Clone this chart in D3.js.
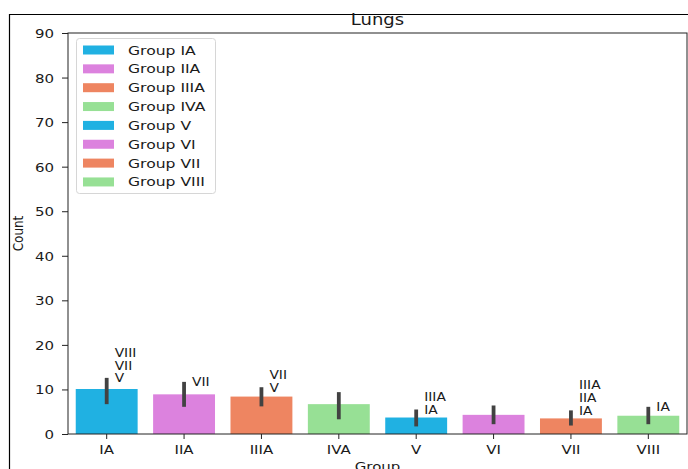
<!DOCTYPE html>
<html>
<head>
<meta charset="utf-8">
<script src="https://cdn.jsdelivr.net/npm/d3@7"></script>
<style>
  html, body { margin: 0; padding: 0; background: #fff; }
  svg { display: block; font-family: "DejaVu Sans", sans-serif; }
</style>
</head>
<body>
<svg id="chart" width="688" height="469"></svg>
<script>
// Lung counts per group: mean with confidence interval
const groups = ["IA", "IIA", "IIIA", "IVA", "V", "VI", "VII", "VIII"];
const means  = [10.1, 8.9, 8.4, 6.7, 3.7, 4.3, 3.5, 4.1];
const ciLow  = [6.7, 6.1, 6.2, 3.3, 1.7, 2.2, 1.9, 2.2];
const ciHigh = [12.6, 11.7, 10.5, 9.4, 5.5, 6.4, 5.3, 6.1];
// significance labels stacked above each error bar (bottom to top)
const sigLabels = [["V", "VII", "VIII"], ["VII"], ["V", "VII"], [], ["IA", "IIIA"], [], ["IA", "IIA", "IIIA"], ["IA"]];
const palette = ["#20b1e2", "#dc82de", "#ee8561", "#97e095"];
const yTicks = [0, 10, 20, 30, 40, 50, 60, 70, 80, 90];

const SX = 1.2; // horizontal text stretch
const svg = d3.select("#chart");
const margin = { left: 68, top: 33, right: 687, bottom: 434 };

// outer frame
svg.append("path")
  .attr("d", "M9.5,469 L9.5,14.5 L688,14.5")
  .attr("fill", "none").attr("stroke", "#000").attr("stroke-width", 1.2);

const x = d3.scaleBand().domain(groups).range([margin.left, margin.right]).paddingInner(0.2).paddingOuter(0.1);
const y = d3.scaleLinear().domain([0, 90]).range([margin.bottom, margin.top]);
const color = (i) => palette[i % palette.length];

// helper: text with horizontal stretch anchored at (px, py)
function addText(sel, px, py, str, size, anchor) {
  return sel.append("text")
    .attr("transform", `translate(${px},${py}) scale(${SX},1)`)
    .attr("text-anchor", anchor || "start")
    .attr("font-size", size).attr("fill", "#1a1a1a")
    .text(str);
}

// bars
svg.append("g").selectAll("rect").data(groups).join("rect")
  .attr("x", d => x(d))
  .attr("y", (d, i) => y(means[i]))
  .attr("width", x.bandwidth())
  .attr("height", (d, i) => y(0) - y(means[i]))
  .attr("fill", (d, i) => color(i));

// error bars
svg.append("g").selectAll("line").data(groups).join("line")
  .attr("x1", d => x(d) + x.bandwidth() / 2)
  .attr("x2", d => x(d) + x.bandwidth() / 2)
  .attr("y1", (d, i) => y(ciLow[i]))
  .attr("y2", (d, i) => y(ciHigh[i]))
  .attr("stroke", "#424242").attr("stroke-width", 3.8);

// significance labels
const sigG = svg.append("g");
groups.forEach((g, i) => {
  sigLabels[i].forEach((lab, k) => {
    addText(sigG, x(g) + x.bandwidth() / 2 + 8, y(ciHigh[i]) + 4.5 - 12.8 * k, lab, 11.5);
  });
});

// axes
const xAxis = svg.append("g").attr("transform", `translate(0,${margin.bottom})`)
  .call(d3.axisBottom(x).tickSize(5).tickSizeOuter(0));
xAxis.selectAll("text").attr("x", null).attr("y", null).attr("dy", null)
  .attr("transform", `translate(0,19.5) scale(${SX},1)`);
const yAxis = svg.append("g").attr("transform", `translate(${margin.left},0)`)
  .call(d3.axisLeft(y).tickValues(yTicks).tickSize(6).tickSizeOuter(0));
yAxis.selectAll("text").attr("x", null).attr("dy", "0.36em")
  .attr("transform", `translate(-14,0) scale(${SX},1)`);
[xAxis, yAxis].forEach(a => {
  a.selectAll("text").attr("font-size", 12.5).attr("fill", "#1a1a1a").attr("font-family", "DejaVu Sans, sans-serif");
  a.selectAll("line").attr("stroke", "#222");
  a.select(".domain").remove();
});

// plot frame (spines)
svg.append("rect")
  .attr("x", margin.left).attr("y", margin.top)
  .attr("width", margin.right - margin.left).attr("height", margin.bottom - margin.top)
  .attr("fill", "none").attr("stroke", "#222").attr("stroke-width", 1);

// title and axis labels
addText(svg, (margin.left + margin.right) / 2, 25, "Lungs", 15, "middle");
addText(svg, (margin.left + margin.right) / 2, 471, "Group", 12.5, "middle");
svg.append("text")
  .attr("transform", `translate(23,${(margin.top + margin.bottom) / 2}) scale(${SX},1) rotate(-90)`)
  .attr("text-anchor", "middle").attr("font-size", 12).attr("fill", "#1a1a1a").text("Count");

// legend
const legend = svg.append("g");
legend.append("rect").attr("x", 76.5).attr("y", 38.5).attr("width", 139).attr("height", 155)
  .attr("rx", 3).attr("fill", "#fff").attr("fill-opacity", 0.8).attr("stroke", "#d6d6d6");
groups.forEach((g, i) => {
  const cy = 50 + i * 18.85;
  legend.append("rect").attr("x", 83).attr("y", cy - 4.5).attr("width", 31).attr("height", 9).attr("fill", color(i));
  addText(legend, 128, cy + 4.5, "Group " + g, 13);
});
</script>
</body>
</html>
